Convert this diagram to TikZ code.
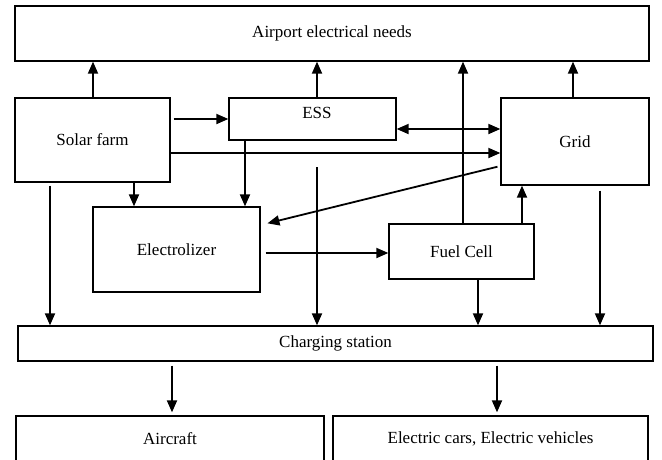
\documentclass[tikz,border=0pt]{standalone}
\usepackage{fontspec}
\setmainfont{Liberation Serif}
\usetikzlibrary{arrows.meta}

\begin{document}
\begin{tikzpicture}[x=1pt, y=-1pt,
    box/.style={draw, line width=1.3pt, inner sep=0pt, font=\fontsize{17}{20}\selectfont},
    txt/.style={inner sep=0pt, font=\fontsize{17}{20}\selectfont},
    arr/.style={line width=1.8pt, -{Triangle[length=12pt, width=10pt]}},
    dblarr/.style={line width=1.8pt, {Triangle[length=12pt, width=10pt]}-{Triangle[length=12pt, width=10pt]}}]

    \useasboundingbox (0,0) rectangle (662,459);
    \clip (0,0) rectangle (662,459);

    % --- Blocs ---
    \node[box, minimum width=634pt, minimum height=55pt] (needs) at (332,33.5) {Airport electrical needs};
    \node[box, minimum width=155pt, minimum height=84pt] (solar) at (92.5,140) {Solar farm};
    \node[box, minimum width=167pt, minimum height=42pt] (ess) at (312.5,119) {};
    \node[txt] (esstxt) at (317,113) {ESS};
    \node[box, minimum width=148pt, minimum height=87pt] (grid) at (575,141.5) {Grid};
    \node[box, minimum width=167pt, minimum height=85pt] (elec) at (176.5,249.5) {Electrolizer};
    \node[box, minimum width=145pt, minimum height=55pt] (fuel) at (461.5,251.5) {Fuel Cell};
    \node[box, minimum width=635pt, minimum height=35pt] (charge) at (335.5,343.5) {Charging station};
    \node[box, minimum width=308pt, minimum height=46pt] (plane) at (170,439) {Aircraft};
    \node[box, minimum width=315pt, minimum height=46pt] (cars) at (490.5,439) {Electric cars, Electric vehicles};

    % --- Solar farm ---
    \draw[arr] (93,0 |- solar.north) -- (93,0 |- needs.south);
    \draw[arr, shorten <=3pt] (solar.east |- ess.west) -- (ess.west);
    \draw[arr] (solar.east |- 0,153) -- (grid.west |- 0,153);
    \draw[arr] (134,0 |- solar.south) -- (134,0 |- elec.north);
    \draw[arr, shorten <=3pt] (50,0 |- solar.south) -- (50,0 |- charge.north);

    % --- ESS ---
    \draw[arr] (317,0 |- ess.north) -- (317,0 |- needs.south);
    \draw[dblarr] (ess.east |- 0,129) -- (grid.west |- 0,129);
    \draw[arr] (245,0 |- ess.south) -- (245,0 |- elec.north);
    \coordinate (essdrop) at (317,167);
    \draw[arr] (essdrop) -- (essdrop |- charge.north);

    % --- Grid ---
    \draw[arr] (573,0 |- grid.north) -- (573,0 |- needs.south);
    \draw[arr, shorten <=3pt, shorten >=7pt] (grid.west |- 0,166) -- (elec.east |- 0,225);
    \draw[arr, shorten <=5pt] (600,0 |- grid.south) -- (600,0 |- charge.north);

    % --- Electrolizer et Fuel Cell ---
    \draw[arr, shorten <=5pt] (elec.east |- 0,253) -- (fuel.west |- 0,253);
    \draw[arr] (463,0 |- fuel.north) -- (463,0 |- needs.south);
    \draw[arr] (522,0 |- fuel.north) -- (522,0 |- grid.south);
    \draw[arr] (478,0 |- fuel.south) -- (478,0 |- charge.north);

    % --- Charging station ---
    \draw[arr, shorten <=4pt, shorten >=3pt] (172,0 |- charge.south) -- (172,0 |- plane.north);
    \draw[arr, shorten <=4pt, shorten >=3pt] (497,0 |- charge.south) -- (497,0 |- cars.north);

\end{tikzpicture}
\end{document}
